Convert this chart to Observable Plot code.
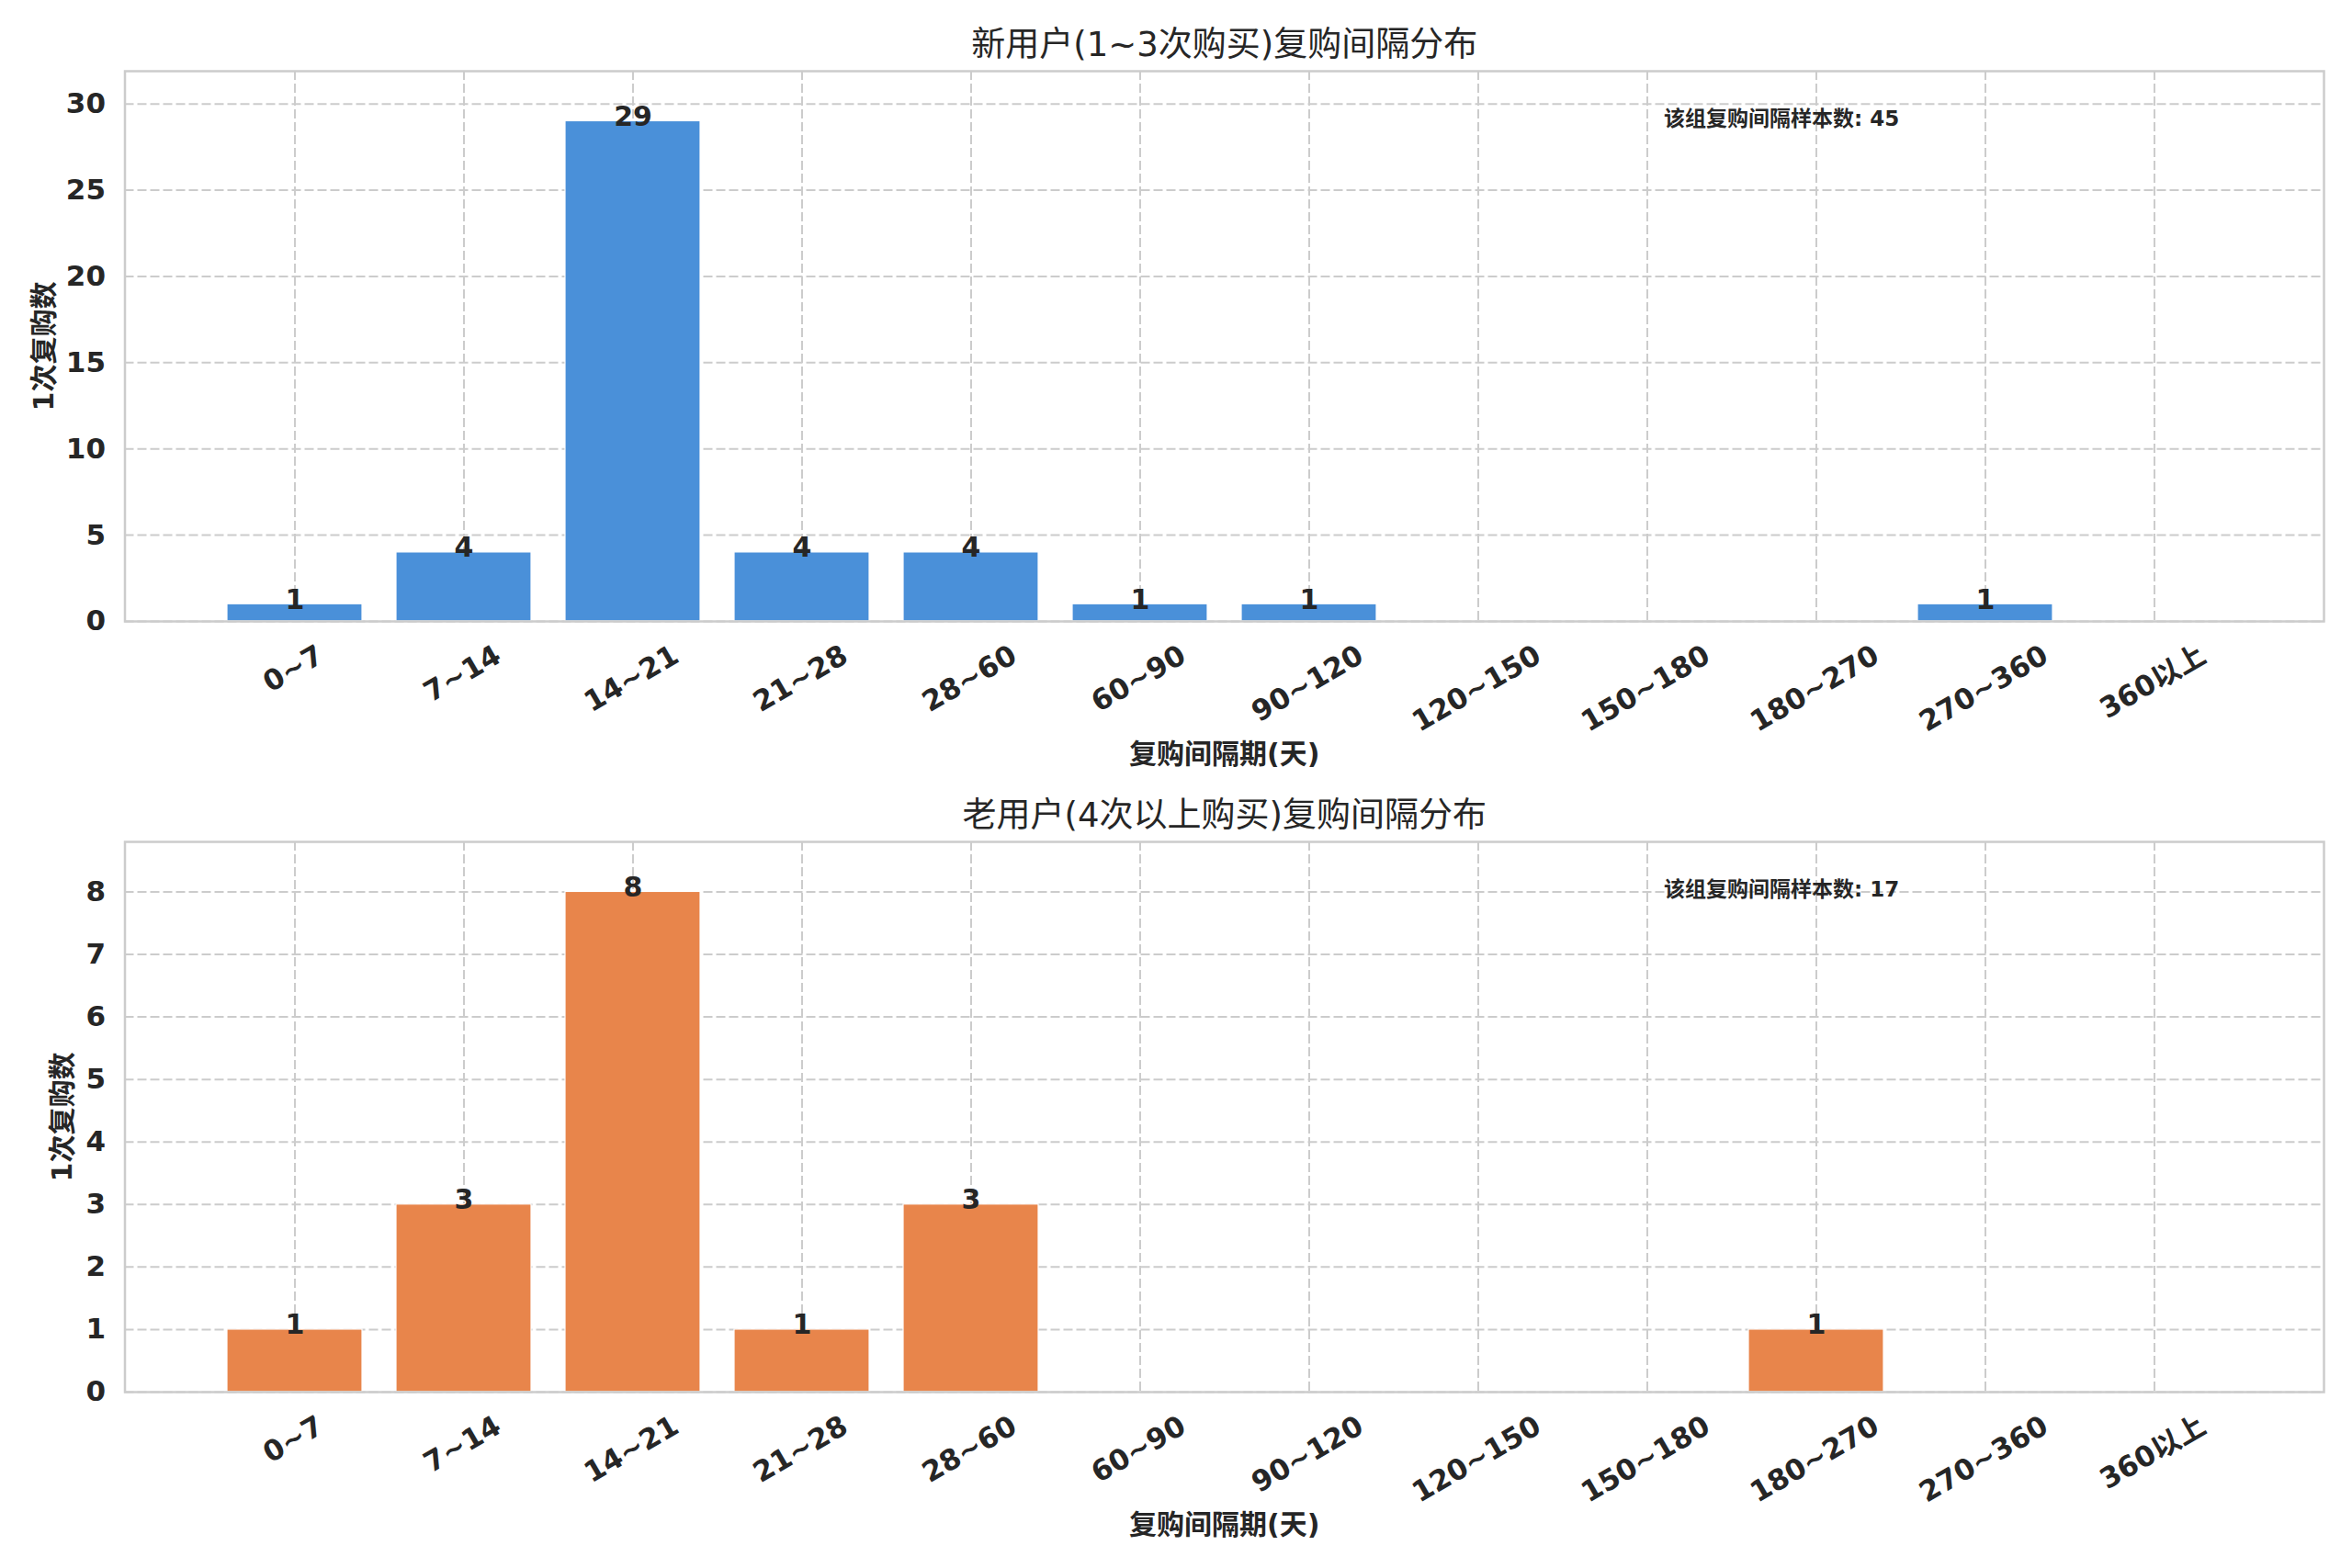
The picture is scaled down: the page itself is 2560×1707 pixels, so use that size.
<!DOCTYPE html>
<html><head><meta charset="utf-8">
<script src="https://cdn.jsdelivr.net/npm/d3@7"></script>
<script src="https://cdn.jsdelivr.net/npm/@observablehq/plot@0.6"></script>
<style>
body{margin:0;background:#fff;}
#c{width:2560px;height:1707px;overflow:hidden;}
#c svg{display:block;}
</style></head><body><div id="c"></div>
<script>
const categories = ["0~7","7~14","14~21","21~28","28~60","60~90","90~120","120~150","150~180","180~270","270~360","360以上"];
const newUserCounts = [1,4,29,4,4,1,1,0,0,0,1,0];
const oldUserCounts = [1,3,8,1,3,0,0,0,0,1,0,0];
const yTicksTop = [0,5,10,15,20,25,30];
const yTicksBottom = [0,1,2,3,4,5,6,7,8];
const titleTop = "新用户(1~3次购买)复购间隔分布";
const titleBottom = "老用户(4次以上购买)复购间隔分布";
const xLabel = "复购间隔期(天)";
const yLabel = "1次复购数";
const notePrefix = "该组复购间隔样本数: ";
const colorTop = "#4A90D9";
const colorBottom = "#E8854B";

const FONT = "'DejaVu Sans','Noto Sans CJK SC',sans-serif";
const ink = "#262626";
const gridColor = "#cccccc";

const canvas = document.createElement("canvas");
const ctx = canvas.getContext("2d");
function textWidth(s, size) {
  ctx.font = `bold ${size}px 'DejaVu Sans','Noto Sans CJK SC'`;
  return ctx.measureText(s).width;
}

function chart({counts, color, yTicks, title, height, marginTop, marginBottom, yLabelDx}) {
  const data = categories.map((c, i) => ({cat: c, n: counts[i]}));
  const total = d3.sum(counts);
  const ymax = d3.max(counts) * 1.1;
  const tickSize = 31;
  const rad = Math.PI / 6;
  const xTickMarks = categories.map(c => {
    const w = textWidth(c, tickSize);
    const h = tickSize * 1.0;
    return Plot.text([c], {
      x: d => d, frameAnchor: "bottom", text: d => d,
      rotate: -30, textAnchor: "end", lineAnchor: "top",
      dx: w * Math.cos(rad) / 2 - h * Math.sin(rad) / 2,
      dy: 24,
      fontSize: tickSize, fontWeight: "bold", fill: ink, fontFamily: FONT
    });
  });
  return Plot.plot({
    width: 2560,
    height,
    marginTop,
    marginBottom,
    marginLeft: 135.5,
    marginRight: 31,
    style: {fontFamily: FONT, background: "#fff", overflow: "visible"},
    x: {type: "band", domain: categories, paddingInner: 0.2, paddingOuter: 0.58, axis: null},
    y: {domain: [0, ymax], axis: null},
    marks: [
      Plot.gridY(yTicks, {stroke: gridColor, strokeOpacity: 1, strokeWidth: 2, strokeDasharray: "10,4"}),
      Plot.gridX(categories, {stroke: gridColor, strokeOpacity: 1, strokeWidth: 2, strokeDasharray: "10,4"}),
      Plot.barY(data, {x: "cat", y: "n", fill: color, stroke: "#ffffff", strokeWidth: 1.2}),
      Plot.frame({stroke: gridColor, strokeWidth: 2.5}),
      Plot.axisY({ticks: yTicks, tickSize: 0, tickPadding: 21, fontSize: 31, fontWeight: "bold", fill: ink, label: null, fontFamily: FONT}),
      ...xTickMarks,
      Plot.text(data.filter(d => d.n > 0), {x: "cat", y: "n", text: d => String(d.n), lineAnchor: "bottom", dy: 5, fontSize: 30, fontWeight: "bold", fill: ink, fontFamily: FONT}),
      Plot.text([title], {frameAnchor: "top", text: d => d, dy: -28, textAnchor: "middle", lineAnchor: "middle", fontSize: 37, fill: ink, fontFamily: FONT}),
      Plot.text([xLabel], {frameAnchor: "bottom", text: d => d, dy: 145, textAnchor: "middle", lineAnchor: "middle", fontSize: 30, fontWeight: "bold", fill: ink, fontFamily: FONT}),
      Plot.text([yLabel], {frameAnchor: "left", text: d => d, dx: yLabelDx, rotate: -90, textAnchor: "middle", lineAnchor: "middle", fontSize: 30, fontWeight: "bold", fill: ink, fontFamily: FONT}),
      Plot.text([notePrefix + total], {frameAnchor: "top-left", text: d => d, dx: 1675, dy: 43, textAnchor: "start", lineAnchor: "top", fontSize: 23, fontWeight: "bold", fill: ink, fontFamily: FONT})
    ]
  });
}

const c = document.getElementById("c");
c.appendChild(chart({counts: newUserCounts, color: colorTop, yTicks: yTicksTop, title: titleTop, height: 853, marginTop: 77, marginBottom: 177, yLabelDx: -88}));
c.appendChild(chart({counts: oldUserCounts, color: colorBottom, yTicks: yTicksBottom, title: titleBottom, height: 854, marginTop: 63, marginBottom: 192, yLabelDx: -68}));
</script></body></html>
